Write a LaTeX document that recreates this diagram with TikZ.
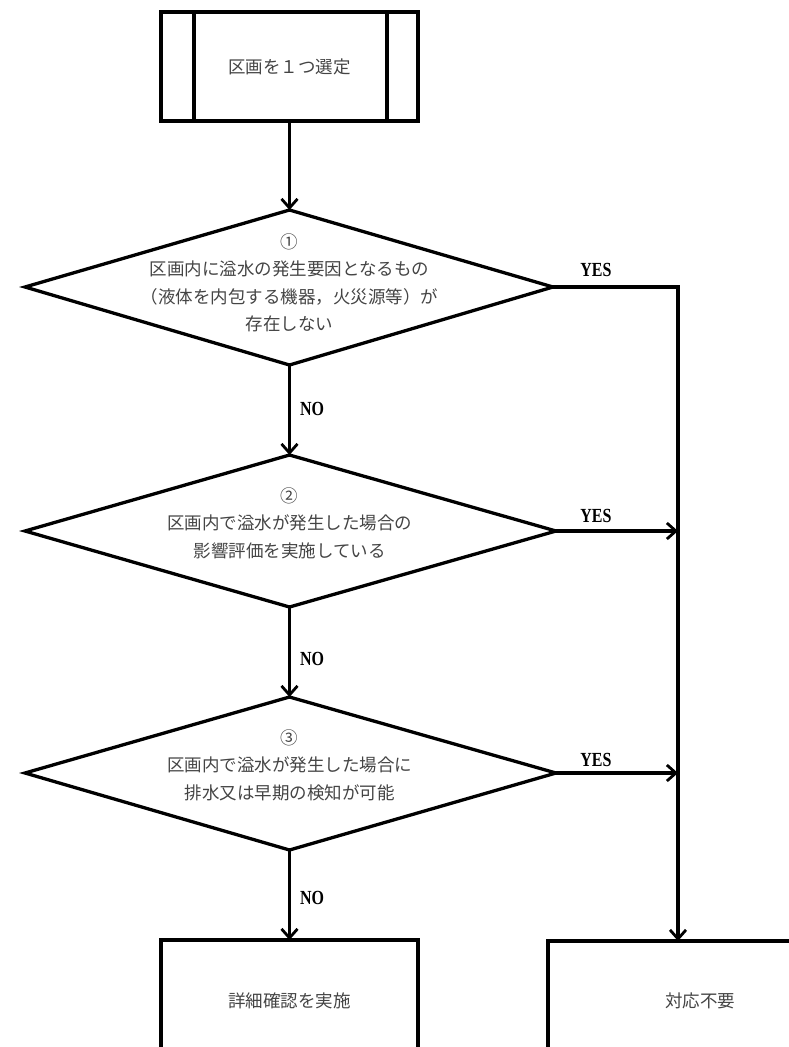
\documentclass[tikz,border=0pt]{standalone}
\usepackage{fontspec}
\newfontfamily\jp{Noto Sans CJK JP}
\newfontfamily\lbl{Liberation Serif}
\usetikzlibrary{arrows.meta}
\definecolor{txtgrey}{HTML}{444444}
\tikzset{
  ln/.style={line width=3.3pt, line join=miter},
  arr/.style={ln, -{Straight Barb[length=9pt,width=16pt,line width=2.8pt]}},
  jtext/.style={font=\jp\fontsize{17.5}{27.5}\selectfont, text=txtgrey, align=center, inner sep=0pt},
  yn/.style={font=\lbl\bfseries\fontsize{20}{22}\selectfont, xscale=0.8, transform shape, inner sep=0pt},
}
\begin{document}
\begin{tikzpicture}[x=1pt,y=-1pt]
\useasboundingbox (0,0) rectangle (789,1047);
\begin{scope}
\clip (0,0) rectangle (789,1047);
% start box
\draw[ln] (161,12) rectangle (418,121);
\draw[ln] (194,12) -- (194,121);
\draw[ln] (387,12) -- (387,121);
\node[jtext] (start) at (289.5,67) {区画を１つ選定};
\coordinate (startb) at (289.5,121);
% diamond 1
\coordinate (d1t) at (289.5,210);
\coordinate (d1l) at (25,287);
\coordinate (d1r) at (553,287);
\coordinate (d1b) at (289.5,365);
\draw[ln] (d1t) -- (d1r) -- (d1b) -- (d1l) -- cycle;
\node[jtext] (d1) at (289.5,283) {①\\区画内に溢水の発生要因となるもの\\（液体を内包する機器，火災源等）が\\存在しない};
% diamond 2
\coordinate (d2t) at (289.5,455);
\coordinate (d2l) at (25,531);
\coordinate (d2r) at (556,531);
\coordinate (d2b) at (289.5,607);
\draw[ln] (d2t) -- (d2r) -- (d2b) -- (d2l) -- cycle;
\node[jtext] (d2) at (289.5,523) {②\\区画内で溢水が発生した場合の\\影響評価を実施している};
% diamond 3
\coordinate (d3t) at (289.5,697);
\coordinate (d3l) at (25,773);
\coordinate (d3r) at (556,773);
\coordinate (d3b) at (289.5,850);
\draw[ln] (d3t) -- (d3r) -- (d3b) -- (d3l) -- cycle;
\node[jtext] (d3) at (289.5,765) {③\\区画内で溢水が発生した場合に\\排水又は早期の検知が可能};
% bottom boxes
\draw[ln] (161,940) rectangle (418,1080);
\node[jtext] (detail) at (289.5,1001) {詳細確認を実施};
\coordinate (detailt) at (289.5,940);
\draw[ln] (548,941) rectangle (820,1080);
\node[jtext] (none) at (700,1001) {対応不要};
\coordinate (nonet) at (678,941);
% connectors
\coordinate (corner) at (678,287);
\coordinate (j2) at (678,531);
\coordinate (j3) at (678,773);
\draw[arr] (startb) -- (d1t);
\draw[arr] (d1b) -- (d2t);
\draw[arr] (d2b) -- (d3t);
\draw[arr] (d3b) -- (detailt);
\draw[arr] (d1r) -- (corner) -- (nonet);
\draw[arr] (d2r) -- (j2);
\draw[arr] (d3r) -- (j3);
% labels
\node[yn] (y1) at (596,270) {YES};
\node[yn] (y2) at (596,516) {YES};
\node[yn] (y3) at (596,760) {YES};
\node[yn] (n1) at (312,409) {NO};
\node[yn] (n2) at (312,659) {NO};
\node[yn] (n3) at (312,898) {NO};
\end{scope}
\end{tikzpicture}
\end{document}
